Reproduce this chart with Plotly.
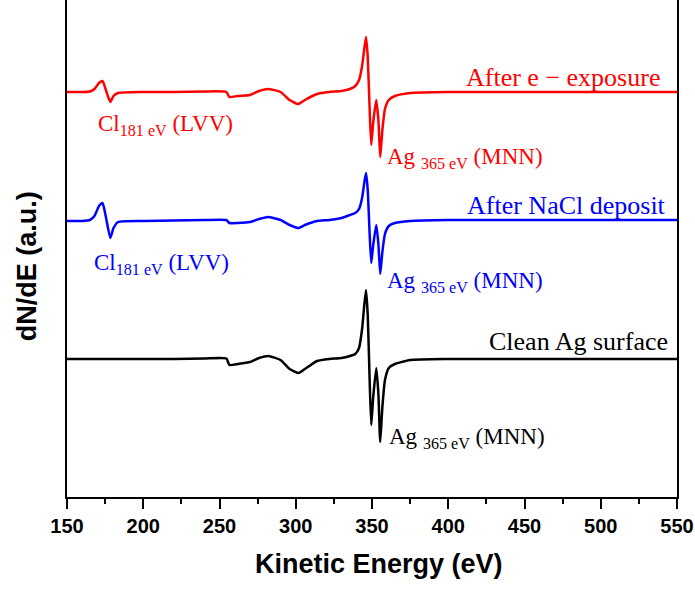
import plotly.graph_objects as go

# Kinetic energy keypoints (eV)
energy = [150, 160, 165, 168, 171, 173.3, 175.5, 178.4, 180.5, 183.5, 200, 220, 240,
          254.5, 256.5, 262, 270, 276, 282, 290, 296, 301.7, 306, 314, 322,
          330, 335.5, 339, 341.5, 343.5, 345, 346.1, 347.2, 348.4, 349.5, 350.8, 352.8,
          354.2, 355.4, 356.8, 358.5, 361, 365, 375, 400, 450, 500, 550]

# dN/dE (a.u.), relative to each spectrum's baseline
after_e = [0, 0, 0.5, 3, 9, 11, 2, -10, -4, -1, 0, 0, 0.5,
           0, -5, -4, -3, 1, 3, 0, -8, -12, -8, -2, 0,
           1, 3, 6, 12, 26, 44, 55, 35, -15, -53, -30, -8,
           -28, -65, -38, -17, -8, -4, -1, 0, 0, 0, 0]

after_nacl = [-1, -1, 0, 4, 14, 17, 3, -18, -8, -2, -1, -0.5, 0,
              0, -3, -3, -2, 1, 3, 0, -5, -8, -5, -1, 0,
              2, 5, 7, 11, 22, 38, 47, 30, -12, -43, -25, -5,
              -24, -54, -32, -14, -6, -3, -1, 0, 0, 0, 0]

clean_ag = [0, 0, 0, 0, 0, 0, 0, 0, 0, 0, 0, 0, 0.5,
            0.5, -6, -5, -3, 1, 3, -1, -10, -14, -10, -2, 0,
            1, 3, 5, 11, 30, 55, 69, 44, -18, -66, -38, -9,
            -35, -83, -48, -21, -9, -5, -1, 0, 0, 0, 0]

# vertical offsets of the stacked spectra
offsets = {"after_e": 405, "after_nacl": 277, "clean": 138}

x_ticks = [150, 200, 250, 300, 350, 400, 450, 500, 550]

RED, BLUE, BLACK = "#FF0000", "#0000FF", "#000000"
serif = "Liberation Serif, Times New Roman, serif"
sans = "Liberation Sans, Arial, sans-serif"

fig = go.Figure()
for vals, key, col in [(after_e, "after_e", RED), (after_nacl, "after_nacl", BLUE),
                       (clean_ag, "clean", BLACK)]:
    fig.add_trace(go.Scatter(x=energy, y=[v + offsets[key] for v in vals],
                             mode="lines", line=dict(color=col, width=2.5, shape="spline", smoothing=0.5),
                             showlegend=False, hoverinfo="skip"))

labels = [
    ("After e \u2212 exposure", 540.4, 420, "right", RED, 26),
    ("Cl<sub>181 eV</sub> (LVV)", 169.2, 372, "left", RED, 23),
    ("Ag <sub>365 eV</sub> (MNN)", 358.7, 339, "left", RED, 23),
    ("After NaCl deposit", 543.8, 292, "right", BLUE, 26),
    ("Cl<sub>181 eV</sub> (LVV)", 166.6, 233, "left", BLUE, 23),
    ("Ag <sub>365 eV</sub> (MNN)", 358.7, 215, "left", BLUE, 23),
    ("Clean Ag surface", 545.7, 156, "right", BLACK, 26),
    ("Ag <sub>365 eV</sub> (MNN)", 360.0, 59, "left", BLACK, 23),
]
for text, x, y, anchor, col, size in labels:
    fig.add_annotation(x=x, y=y, text=text, showarrow=False, xanchor=anchor,
                       yanchor="middle", font=dict(family=serif, size=size, color=col))

# axis titles
fig.add_annotation(xref="paper", yref="paper", x=(378.7 - 66.7) / 609.8, y=-(563.7 - 497) / 497,
                   text="<b>Kinetic Energy (eV)</b>", showarrow=False,
                   xanchor="center", yanchor="middle",
                   font=dict(family=sans, size=27, color="black"))
fig.add_annotation(xref="paper", yref="paper", x=-(66.7 - 27) / 609.8, y=(497 - 266) / 497,
                   text="<b>dN/dE (a.u.)</b>", showarrow=False, textangle=-90,
                   xanchor="center", yanchor="middle",
                   font=dict(family=sans, size=27, color="black"))

fig.update_xaxes(range=[150, 550], tickvals=x_ticks, ticks="outside", ticklen=10,
                 tickwidth=2, tickcolor="black", showline=True, linewidth=2,
                 linecolor="black", mirror=False, showgrid=False, zeroline=False,
                 tickfont=dict(family=sans, size=20, color="black", weight="bold"),
                 minor=dict(tickvals=[175, 225, 275, 325, 375, 425, 475, 525],
                            ticks="outside", ticklen=5, tickwidth=2, tickcolor="black"))
fig.update_yaxes(range=[0, 497], showticklabels=False, ticks="", showline=True,
                 linewidth=2, linecolor="black", mirror=True, showgrid=False,
                 zeroline=False)

fig.update_layout(width=695, height=590, margin=dict(l=67, r=18, t=0, b=93),
                  plot_bgcolor="white", paper_bgcolor="white")

fig.write_html("out.html")
